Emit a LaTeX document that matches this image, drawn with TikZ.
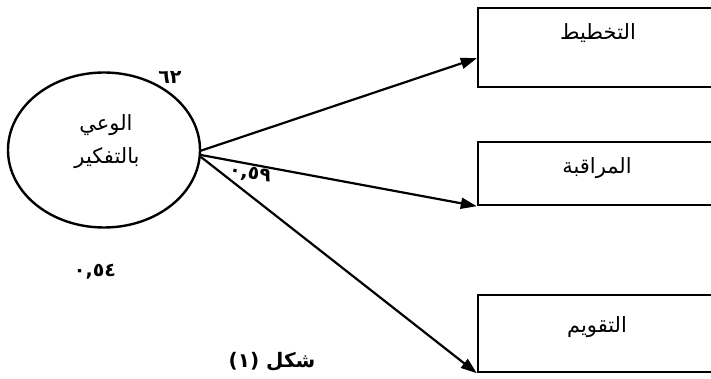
\documentclass[tikz,border=0pt]{standalone}
\usepackage{fontspec}
\newfontfamily\arabicfont[Script=Arabic]{DejaVu Sans}
\TeXXeTstate=1
\usetikzlibrary{arrows.meta,calc,shapes.geometric}
\begin{document}
\begin{tikzpicture}[x=1pt,y=-1pt,
  box/.style={draw,line width=2.4pt,minimum width=242pt,inner sep=0pt},
  lbl/.style={font=\arabicfont\fontsize{21}{24}\selectfont,inner sep=0pt},
  num/.style={font=\arabicfont\bfseries\fontsize{19}{22}\selectfont,inner sep=0pt},
  conn/.style={line width=2.2pt,-{Triangle[length=16pt,width=11pt]}}]
\clip (0,0) rectangle (711,379);
\fill[white] (0,0) rectangle (711,379);
\node[ellipse,draw,line width=2.4pt,minimum width=192pt,minimum height=155pt,inner sep=0pt] (e) at (104,150) {};
\node[lbl] (t1) at (106,125) {\beginR الوعي\endR};
\node[lbl] (t2) at (107,158) {\beginR بالتفكير\endR};
\node[box,minimum height=79pt] (b1) at (599,47.5) {};
\node[box,minimum height=63pt] (b2) at (599,173.5) {};
\node[box,minimum height=77pt] (b3) at (599,333.5) {};
\node[lbl] (l1) at (598,33) {\beginR التخطيط\endR};
\node[lbl] (l2) at (597,168) {\beginR المراقبة\endR};
\node[lbl] (l3) at (597,327) {\beginR التقويم\endR};
\coordinate (s1) at (200,151);
\coordinate (s2) at (201,155);
\coordinate (s3) at (201,157);
\draw[conn] (s1) -- ($(b1.south west)+(0,-30)$);
\draw[conn] (s2) -- (b2.south west);
\draw[conn] (s3) -- (b3.south west);
\node[num] (n1) at (170,77) {٦٢};
\node[num,rotate=-8] (n2) at (250,174) {٠,٥٩};
\node[num] (n3) at (95,272) {٠,٥٤};
\node[lbl,font=\arabicfont\bfseries\fontsize{20}{23}\selectfont] (cap) at (272,362) {\beginR شكل (١)\endR};
\end{tikzpicture}
\end{document}
